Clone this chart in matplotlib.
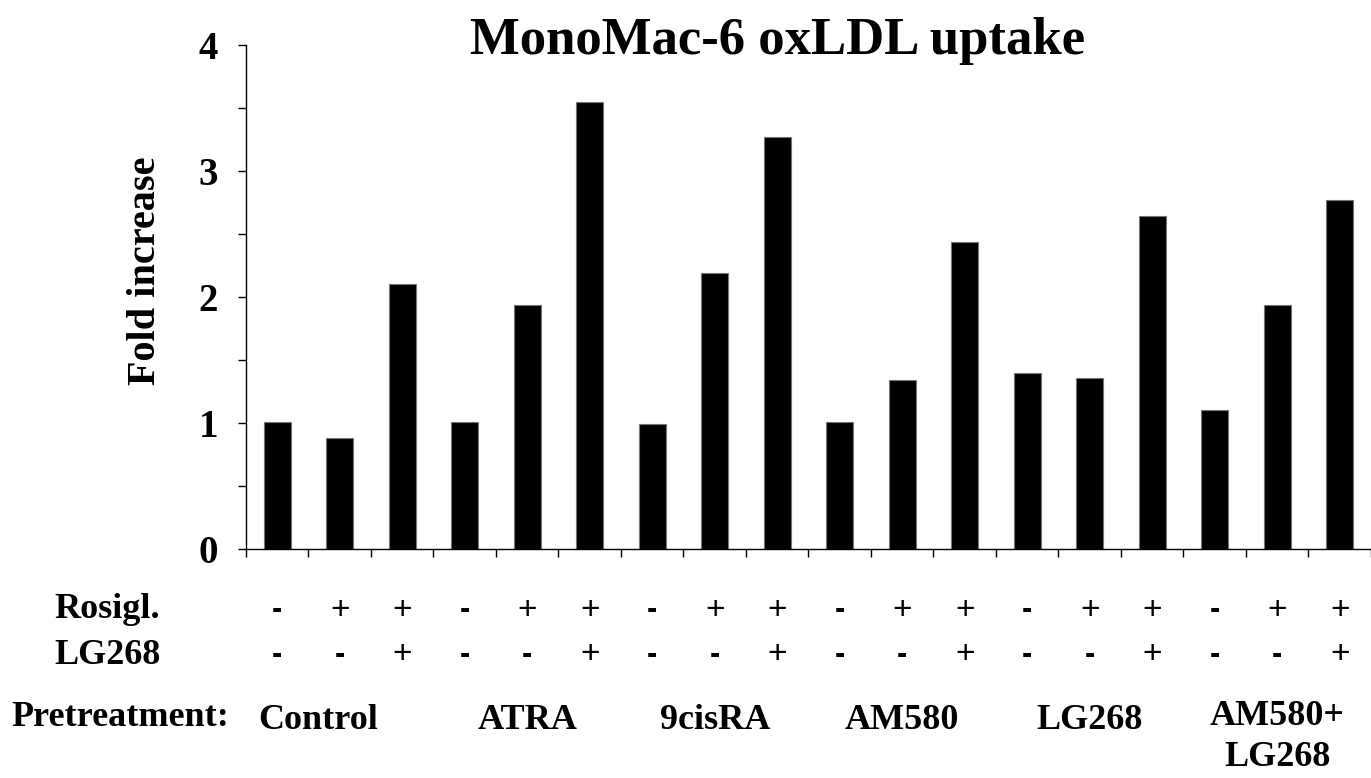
import matplotlib
matplotlib.use("Agg")
import matplotlib.pyplot as plt
import matplotlib.transforms as mtransforms
from matplotlib.ticker import MultipleLocator

# данные
groups = ["Control", "ATRA", "9cisRA", "AM580", "LG268", "AM580+\nLG268"]
rosigl = ["-", "+", "+"] * 6
lg268 = ["-", "-", "+"] * 6
fold = [1.01, 0.88, 2.10,
        1.01, 1.94, 3.55,
        0.99, 2.19, 3.27,
        1.01, 1.34, 2.44,
        1.40, 1.36, 2.64,
        1.10, 1.94, 2.77]

serif = ["Liberation Serif", "DejaVu Serif"]
sans = ["Liberation Sans", "DejaVu Sans"]

fig = plt.figure(figsize=(13.71, 7.78), dpi=100)
ax = fig.add_axes([0.1794, 0.2943, 0.8206, 0.648])

x = list(range(len(fold)))
ax.bar(x, fold, width=0.43, color="black", edgecolor="#777777", linewidth=0.8)

ax.set_xlim(-0.5, len(fold) - 0.5)
ax.set_ylim(0, 4)
ax.spines["top"].set_visible(False)
ax.spines["right"].set_visible(False)
ax.spines["left"].set_linewidth(1.0)
ax.spines["bottom"].set_linewidth(1.0)

ax.yaxis.set_major_locator(MultipleLocator(1))
ax.yaxis.set_minor_locator(MultipleLocator(0.5))
ax.tick_params(axis="y", which="both", direction="out", length=6, width=1)
for lab in ax.get_yticklabels():
    lab.set_fontfamily(serif)
    lab.set_fontweight("bold")
    lab.set_fontsize(28)
ax.tick_params(axis="y", pad=14)

# тики по оси x - на границах категорий
ax.set_xticks([i - 0.5 for i in range(len(fold) + 1)])
ax.set_xticklabels([])
ax.tick_params(axis="x", direction="out", length=6, width=1)

ax.set_ylabel("Fold increase", fontfamily=serif, fontweight="bold",
              fontsize=29)
ax.yaxis.set_label_coords(-0.073, 0.552)

fig.text(0.567, 0.947, "MonoMac-6 oxLDL uptake", ha="center", va="center",
         fontfamily=serif, fontweight="bold", fontsize=38)

# подписи под осью
trans = mtransforms.blended_transform_factory(ax.transData, fig.transFigure)
y_ros = 1 - 610 / 778
y_lg = 1 - 655 / 778
y_pre = 1 - 717 / 778

fig.text(0.0785, y_ros, "Rosigl.", ha="center", va="center",
         fontfamily=serif, fontweight="bold", fontsize=26)
fig.text(0.0785, y_lg, "LG268", ha="center", va="center",
         fontfamily=serif, fontweight="bold", fontsize=26)
fig.text(0.0875, y_pre, "Pretreatment:", ha="center", va="center",
         fontfamily=serif, fontweight="bold", fontsize=26)

for i in x:
    for sign, yy in ((rosigl[i], y_ros), (lg268[i], y_lg)):
        if sign == "+":
            ax.text(i, yy, "+", transform=trans, ha="center", va="center",
                    fontfamily=sans, fontsize=24)
        else:
            ax.text(i, yy, "-", transform=trans, ha="center", va="center",
                    fontfamily=sans, fontweight="bold", fontsize=22)

for g, name in enumerate(groups):
    cx = 3 * g + 1
    if g == 0:
        cx -= 0.35
    if "\n" in name:
        ax.text(cx, 1 - 700 / 778, name, transform=trans, ha="center", va="top",
                fontfamily=serif, fontweight="bold", fontsize=26,
                linespacing=1.3, clip_on=False)
    else:
        ax.text(cx, y_pre - 0.004, name, transform=trans, ha="center",
                va="center", fontfamily=serif, fontweight="bold", fontsize=26)

fig.savefig("out.png", dpi=100)
